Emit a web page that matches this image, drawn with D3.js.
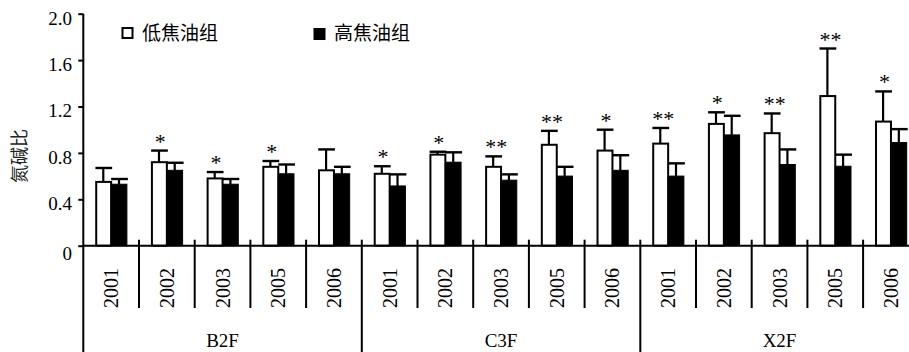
<!DOCTYPE html>
<html>
<head>
<meta charset="utf-8">
<script src="https://cdn.jsdelivr.net/npm/d3@7"></script>
<style>
  html, body { margin: 0; padding: 0; background: #fff; }
  svg { display: block; }
  .serif { font-family: "Liberation Serif", "Times New Roman", Times, serif; }
  .cjk { font-family: "Noto Sans CJK SC", "Noto Sans CJK JP", sans-serif; }
</style>
</head>
<body>
<div id="chart"></div>
<script>
// ---------- data ----------
const groups = ["B2F", "C3F", "X2F"];
const years = ["2001", "2002", "2003", "2005", "2006"];
const seriesNames = ["低焦油组", "高焦油组"];
const lowValues  = [0.55, 0.72, 0.58, 0.68, 0.65,  0.62, 0.785, 0.68, 0.87, 0.82,  0.88, 1.05, 0.97, 1.29, 1.07];
const lowErrors  = [0.12, 0.10, 0.055, 0.05, 0.18, 0.065, 0.025, 0.09, 0.12, 0.18, 0.135, 0.10, 0.17, 0.41, 0.26];
const highValues = [0.53, 0.65, 0.53, 0.62, 0.62,  0.515, 0.72, 0.565, 0.60, 0.65,  0.60, 0.955, 0.70, 0.685, 0.89];
const highErrors = [0.045, 0.065, 0.045, 0.08, 0.06, 0.10, 0.085, 0.05, 0.08, 0.13, 0.11, 0.165, 0.13, 0.10, 0.115];
const marks      = ["", "*", "*", "*", "", "*", "*", "**", "**", "*", "**", "*", "**", "**", "*"];
const yTicks = [0, 0.4, 0.8, 1.2, 1.6, 2.0];
const yTitle = "氮碱比";

// ---------- layout ----------
const W = 909, H = 352;
const left = 83.3, step = 55.7;
const baseY = 245.7, topY = 13.7;

const cats = [];
groups.forEach(g => years.forEach(y => cats.push({ group: g, year: y })));
cats.forEach((c, i) => {
  c.i = i; c.low = lowValues[i]; c.lowErr = lowErrors[i];
  c.high = highValues[i]; c.highErr = highErrors[i]; c.mark = marks[i];
});

const svg = d3.select("#chart").append("svg")
  .attr("width", W).attr("height", H);

const x = d3.scaleBand().domain(d3.range(cats.length))
  .range([left, left + step * cats.length]).paddingInner(0).paddingOuter(0);
const x1 = d3.scaleBand().domain(["low", "high"])
  .range([0, x.bandwidth()]).paddingInner(0).paddingOuter(0.77);
const y = d3.scaleLinear().domain([0, 2]).range([baseY, topY]);

// ---------- bars ----------
const series = [
  { key: "low", fill: "#fff", val: c => c.low, err: c => c.lowErr },
  { key: "high", fill: "#000", val: c => c.high, err: c => c.highErr }
];

const g = svg.append("g");
series.forEach(s => {
  g.selectAll(".err-" + s.key).data(cats).enter().append("line")
    .attr("x1", c => x(c.i) + x1(s.key) + x1.bandwidth() / 2)
    .attr("x2", c => x(c.i) + x1(s.key) + x1.bandwidth() / 2)
    .attr("y1", c => y(s.val(c)))
    .attr("y2", c => y(s.val(c) + s.err(c)))
    .attr("stroke", "#000").attr("stroke-width", 2.2);
  g.selectAll(".cap-" + s.key).data(cats).enter().append("line")
    .attr("x1", c => x(c.i) + x1(s.key))
    .attr("x2", c => x(c.i) + x1(s.key) + x1.bandwidth() + 1)
    .attr("y1", c => y(s.val(c) + s.err(c)))
    .attr("y2", c => y(s.val(c) + s.err(c)))
    .attr("stroke", "#000").attr("stroke-width", 2.4);
});
series.forEach(s => {
  g.selectAll(".bar-" + s.key).data(cats).enter().append("rect")
    .attr("x", c => x(c.i) + x1(s.key) + (s.key === "low" ? 0.8 : 0))
    .attr("y", c => y(s.val(c)))
    .attr("width", x1.bandwidth() - (s.key === "low" ? 0.8 : 0))
    .attr("height", c => baseY - y(s.val(c)))
    .attr("fill", s.fill)
    .attr("stroke", "#000").attr("stroke-width", s.key === "low" ? 2 : 1);
});

// significance marks
cats.forEach(c => {
  if (!c.mark) return;
  const cx = x(c.i) + x1("low") + x1.bandwidth() / 2;
  const top = y(c.low + c.lowErr);
  const n = c.mark.length;
  for (let k = 0; k < n; k++) {
    const off = n === 1 ? 1.3 : (k === 0 ? -2.5 : 8.5);
    svg.append("text").attr("class", "serif")
      .attr("x", cx + off).attr("y", top - 2)
      .attr("text-anchor", "middle")
      .style("font-size", "22px")
      .attr("fill", "#000")
      .text("*");
  }
});

// ---------- axes ----------
const yAxis = d3.axisLeft(y).tickValues(yTicks).tickSize(5).tickPadding(6.3)
  .tickFormat(d => d === 0 ? "0" : d3.format(".1f")(d));
const ya = svg.append("g").attr("transform", `translate(${left},0)`).call(yAxis);
ya.attr("font-family", null).attr("font-size", null);
ya.select(".domain").remove();
ya.selectAll(".tick line").attr("stroke", "#000").attr("stroke-width", 2);
ya.selectAll(".tick text").attr("class", "serif")
  .style("font-size", "19px").attr("fill", "#000")
  .attr("dy", d => d === 0 ? "0.75em" : "0.55em");

// y axis line (continues down as the left group separator)
svg.append("line").attr("x1", left).attr("x2", left)
  .attr("y1", topY).attr("y2", H)
  .attr("stroke", "#000").attr("stroke-width", 2);

// baseline
svg.append("line").attr("x1", left).attr("x2", W)
  .attr("y1", baseY).attr("y2", baseY)
  .attr("stroke", "#000").attr("stroke-width", 2);

// category separators
d3.range(1, cats.length + 1).forEach(k => {
  const isGroup = k % years.length === 0;
  const xx = x(k - 1) + x.bandwidth();
  svg.append("line").attr("x1", xx).attr("x2", xx)
    .attr("y1", baseY - 6).attr("y2", isGroup ? H : 308)
    .attr("stroke", "#000").attr("stroke-width", 2);
});

// year labels
cats.forEach(c => {
  const cx = x(c.i) + x.bandwidth() / 2;
  svg.append("text").attr("class", "serif")
    .attr("transform", `translate(${cx},288) rotate(-90)`)
    .attr("text-anchor", "middle").attr("dy", "0.35em")
    .style("font-size", "20px").attr("fill", "#000")
    .text(c.year);
});

// group labels
groups.forEach((gName, gi) => {
  const x0 = x(gi * years.length);
  const x2 = x0 + step * years.length;
  svg.append("text").attr("class", "serif")
    .attr("x", (x0 + x2) / 2).attr("y", 347)
    .attr("text-anchor", "middle")
    .style("font-size", "19px").attr("fill", "#000")
    .text(gName);
});

// y title
svg.append("text").attr("class", "cjk")
  .attr("transform", "translate(20,156) rotate(-90)")
  .attr("text-anchor", "middle").attr("dy", "0.35em")
  .style("font-size", "18px").attr("fill", "#222")
  .text(yTitle);

// ---------- legend ----------
const legendX = [121.5, 313.5];
series.forEach((s, i) => {
  svg.append("rect").attr("x", legendX[i] + (i === 0 ? 1 : 0)).attr("y", 28)
    .attr("width", i === 0 ? 10 : 12).attr("height", i === 0 ? 10 : 12)
    .attr("fill", s.fill).attr("stroke", "#000").attr("stroke-width", i === 0 ? 2 : 0);
  svg.append("text").attr("class", "cjk")
    .attr("x", legendX[i] + 20.5).attr("y", 33.5).attr("dy", "0.35em")
    .style("font-size", "19px").attr("fill", "#000")
    .text(seriesNames[i]);
});
</script>
</body>
</html>
